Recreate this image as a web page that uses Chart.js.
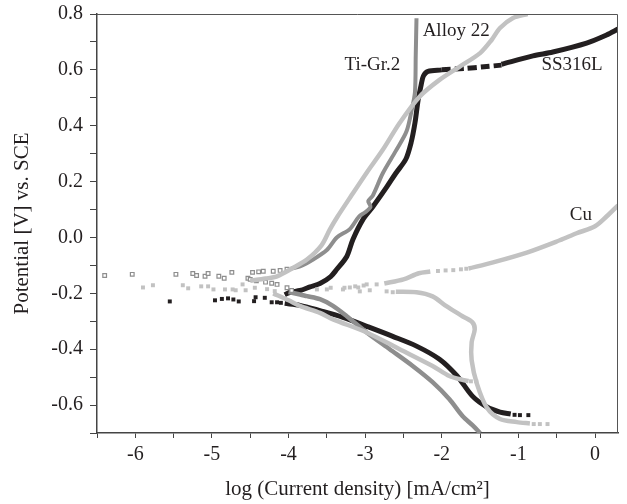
<!DOCTYPE html>
<html>
<head>
<meta charset="utf-8">
<script src="https://cdn.jsdelivr.net/npm/chart.js@4"></script>
<style>
  body { margin: 0; background: #fff; }
  canvas { display: block; }
</style>
</head>
<body>
<canvas id="chart" width="627" height="504"></canvas>
<script>
// DATA (log i in mA/cm2, potential in V vs. SCE)

// SS316L
const ssMarkX = [-5.55, -4.96, -4.87, -4.79, -4.72, -4.65, -4.45, -4.43, -4.31, -4.22, -4.15, -4.1];
const ssMarkY = [-0.229, -0.225, -0.22, -0.218, -0.222, -0.229, -0.228, -0.214, -0.216, -0.232, -0.232, -0.234];
const ssAnodX = [-4.05, -3.98, -3.85, -3.72, -3.59, -3.45, -3.37, -3.24, -3.16, -3.03, -2.9, -2.72, -2.6, -2.47, -2.4, -2.35, -2.31, -2.27, -2.24, -2.18, -2.0];
const ssAnodY = [-0.205, -0.196, -0.19, -0.177, -0.165, -0.14, -0.114, -0.068, -0.007, 0.064, 0.11, 0.18, 0.23, 0.28, 0.34, 0.41, 0.49, 0.545, 0.578, 0.595, 0.6];
const ssPlatX = [-2.0, -1.7, -1.45, -1.22];
const ssPlatY = [0.6, 0.605, 0.611, 0.617];
const ssTransX = [-1.22, -0.81, -0.55, -0.11, 0.15, 0.3];
const ssTransY = [0.62, 0.65, 0.664, 0.696, 0.725, 0.746];
const ssCathX = [-4.05, -3.85, -3.59, -3.29, -2.98, -2.64, -2.33, -2.03, -1.8, -1.6, -1.41, -1.24, -1.1];
const ssCathY = [-0.236, -0.243, -0.262, -0.286, -0.318, -0.354, -0.389, -0.436, -0.496, -0.568, -0.607, -0.625, -0.632];
const ssEndX = [-1.05, -0.98, -0.87];
const ssEndY = [-0.635, -0.636, -0.636];

// Ti-Gr.2
const tiMarkX = [-6.4, -6.04, -5.47, -5.25, -5.2, -5.09, -5.05, -4.91, -4.84, -4.74, -4.53, -4.47, -4.39, -4.33, -4.2, -4.11, -4.02, -4.5, -4.42, -4.3, -4.22, -4.15, -4.02, -3.96];
const tiMarkY = [-0.136, -0.132, -0.132, -0.129, -0.136, -0.139, -0.129, -0.139, -0.146, -0.125, -0.146, -0.125, -0.123, -0.121, -0.121, -0.118, -0.114, -0.15, -0.155, -0.16, -0.164, -0.168, -0.18, -0.19];
const tiAnodX = [-3.97, -3.85, -3.68, -3.5, -3.37, -3.2, -3.08, -3.0, -2.93, -2.96, -2.9, -2.77, -2.6, -2.46, -2.39, -2.35, -2.34, -2.33];
const tiAnodY = [-0.112, -0.104, -0.079, -0.045, 0.0, 0.03, 0.075, 0.09, 0.11, 0.13, 0.15, 0.23, 0.31, 0.38, 0.46, 0.52, 0.65, 0.785];
const tiCathX = [-4.0, -3.85, -3.76, -3.59, -3.42, -3.24, -2.98, -2.68, -2.38, -2.12, -1.9, -1.73, -1.6, -1.5];
const tiCathY = [-0.195, -0.204, -0.21, -0.221, -0.245, -0.282, -0.34, -0.4, -0.46, -0.518, -0.579, -0.639, -0.672, -0.7];

// Alloy 22
const alMarkX = [-5.9, -5.77, -5.38, -5.31, -5.14, -5.05, -4.98, -4.83, -4.73, -4.69, -4.6, -4.56, -4.44, -4.28, -4.18];
const alMarkY = [-0.179, -0.171, -0.171, -0.182, -0.175, -0.175, -0.186, -0.186, -0.186, -0.189, -0.168, -0.189, -0.18, -0.185, -0.192];
const alAnodX = [-4.5, -4.3, -4.15, -3.95, -3.76, -3.57, -3.46, -3.36, -3.18, -2.98, -2.77, -2.55, -2.29, -2.03, -1.77, -1.5, -1.35, -1.24, -1.07, -0.88];
const alAnodY = [-0.155, -0.147, -0.139, -0.11, -0.079, -0.028, 0.029, 0.075, 0.15, 0.232, 0.314, 0.41, 0.504, 0.564, 0.611, 0.66, 0.707, 0.75, 0.786, 0.8];
const alCathX = [-4.2, -4.0, -3.85, -3.59, -3.42, -2.98, -2.55, -2.12, -1.9, -1.73, -1.65];
const alCathY = [-0.2, -0.225, -0.245, -0.27, -0.293, -0.34, -0.4, -0.46, -0.496, -0.51, -0.514];
const alEndX = [-1.62, -1.55];
const alEndY = [-0.515, -0.515];

// Cu
const cuMarkX = [-3.63, -3.5, -3.29, -3.2, -3.09, -3.07, -2.98, -2.94, -2.85, -2.72, -2.64, -3.45, -3.27, -3.13, -3.02];
const cuMarkY = [-0.186, -0.186, -0.186, -0.179, -0.179, -0.193, -0.168, -0.189, -0.168, -0.193, -0.196, -0.18, -0.18, -0.175, -0.172];
const cuAnodX = [-2.75, -2.5, -2.3, -2.15];
const cuAnodY = [-0.165, -0.15, -0.128, -0.122];
const cuGapX = [-2.05, -1.95, -1.85, -1.75, -1.68];
const cuGapY = [-0.12, -0.118, -0.117, -0.114, -0.112];
const cuRiseX = [-1.65, -1.33, -0.89, -0.46, -0.24, 0.0, 0.15, 0.3];
const cuRiseY = [-0.111, -0.089, -0.054, -0.01, 0.015, 0.04, 0.075, 0.115];
const cuCathX = [-2.6, -2.33, -2.12, -1.94, -1.73, -1.6, -1.57, -1.61, -1.61, -1.54, -1.41, -1.24, -1.02, -0.85];
const cuCathY = [-0.194, -0.196, -0.211, -0.246, -0.282, -0.304, -0.329, -0.375, -0.44, -0.525, -0.61, -0.65, -0.661, -0.666];
const cuEndX = [-0.8, -0.72, -0.62];
const cuEndY = [-0.668, -0.668, -0.668];

// AXES
const xTicks = [-6.5, -6, -5.5, -5, -4.5, -4, -3.5, -3, -2.5, -2, -1.5, -1, -0.5, 0];
const yTicks = [-0.7, -0.6, -0.5, -0.4, -0.3, -0.2, -0.1, 0, 0.1, 0.2, 0.3, 0.4, 0.5, 0.6, 0.7, 0.8];

// CURVE LABELS
const labelText = ["Ti-Gr.2", "Alloy 22", "SS316L", "Cu"];
const labelX = [-3.27, -2.25, -0.7, -0.33];
const labelY = [0.6, 0.722, 0.6, 0.064];

const BLACK = "#231f20";
const MID = "#8e8e8e";
const LIGHT = "#c2c2c2";
const SERIF = "'Liberation Serif'";

function pts(xs, ys) {
  return xs.map((x, i) => ({ x: x, y: ys[i] }));
}

function line(xs, ys, color, width, dash) {
  return {
    data: pts(xs, ys),
    showLine: true,
    borderColor: color,
    borderWidth: width,
    borderDash: dash || [],
    pointRadius: 0,
    tension: 0.3,
    borderCapStyle: "butt"
  };
}

function marks(xs, ys, color, hollow) {
  return {
    data: pts(xs, ys),
    showLine: false,
    pointStyle: "rect",
    pointRadius: hollow ? 2.6 : 2.8,
    borderWidth: hollow ? 1.2 : 0,
    borderColor: color,
    backgroundColor: hollow ? "#fff" : color
  };
}

// frame on top/right + curve labels
const extras = {
  id: "extras",
  afterDatasetsDraw(chart) {
    const ctx = chart.ctx;
    const a = chart.chartArea;
    const xs = chart.scales.x;
    const ys = chart.scales.y;
    ctx.save();
    ctx.strokeStyle = "#555";
    ctx.lineWidth = 1;
    ctx.beginPath();
    ctx.moveTo(a.left, a.top + 0.5);
    ctx.lineTo(a.right - 0.5, a.top + 0.5);
    ctx.lineTo(a.right - 0.5, a.bottom);
    ctx.stroke();
    ctx.fillStyle = BLACK;
    ctx.font = "19px " + SERIF;
    ctx.textAlign = "left";
    ctx.textBaseline = "alphabetic";
    labelText.forEach((t, i) => {
      ctx.fillText(t, xs.getPixelForValue(labelX[i]), ys.getPixelForValue(labelY[i]));
    });
    ctx.restore();
  }
};

new Chart(document.getElementById("chart"), {
  type: "scatter",
  data: {
    datasets: [
      // Cu
      marks(cuMarkX, cuMarkY, LIGHT, false),
      line(cuAnodX, cuAnodY, LIGHT, 4.5),
      marks(cuGapX, cuGapY, LIGHT, false),
      line(cuRiseX, cuRiseY, LIGHT, 4.5),
      line(cuCathX, cuCathY, LIGHT, 4.5),
      marks(cuEndX, cuEndY, LIGHT, false),
      // Alloy 22
      marks(alMarkX, alMarkY, LIGHT, false),
      line(alAnodX, alAnodY, LIGHT, 4.5),
      line(alCathX, alCathY, LIGHT, 4.5),
      marks(alEndX, alEndY, LIGHT, false),
      // Ti-Gr.2
      marks(tiMarkX, tiMarkY, MID, true),
      line(tiAnodX, tiAnodY, MID, 4),
      line(tiCathX, tiCathY, MID, 4.5),
      // SS316L
      marks(ssMarkX, ssMarkY, BLACK, false),
      line(ssAnodX, ssAnodY, BLACK, 5),
      line(ssPlatX, ssPlatY, BLACK, 5, [9, 4]),
      line(ssTransX, ssTransY, BLACK, 5),
      line(ssCathX, ssCathY, BLACK, 5),
      marks(ssEndX, ssEndY, BLACK, false)
    ]
  },
  options: {
    responsive: false,
    devicePixelRatio: 1,
    animation: false,
    layout: { padding: { top: 14, right: 9, left: 0, bottom: 0 } },
    plugins: {
      legend: { display: false },
      tooltip: { enabled: false }
    },
    scales: {
      x: {
        type: "linear",
        min: -6.5,
        max: 0.3,
        afterBuildTicks: s => { s.ticks = xTicks.map(v => ({ value: v })); },
        afterFit: s => { s.height = 71; s.paddingLeft = 0; s.paddingRight = 0; },
        grid: { drawOnChartArea: false, drawTicks: true, tickLength: 5, color: "#444", lineWidth: 1 },
        border: { display: true, color: "#444", width: 1.5 },
        ticks: {
          color: BLACK,
          font: { family: SERIF, size: 20 },
          padding: 5,
          maxRotation: 0,
          autoSkip: false,
          callback: v => (Number.isInteger(v) ? String(v) : "")
        },
        title: {
          display: true,
          text: "log (Current density) [mA/cm²]",
          color: BLACK,
          font: { family: SERIF, size: 21 },
          padding: { top: 0, bottom: 2 }
        }
      },
      y: {
        type: "linear",
        min: -0.7,
        max: 0.8,
        afterBuildTicks: s => { s.ticks = yTicks.map(v => ({ value: v })); },
        afterFit: s => { s.width = 97; s.paddingTop = 0; s.paddingBottom = 0; },
        grid: { drawOnChartArea: false, drawTicks: true, tickLength: 7, color: "#444", lineWidth: 1 },
        border: { display: true, color: "#444", width: 1.5 },
        ticks: {
          color: BLACK,
          font: { family: SERIF, size: 20 },
          padding: 7,
          autoSkip: false,
          callback: v => (Math.round(v * 10) % 2 === 0 ? v.toFixed(1) : "")
        },
        title: {
          display: true,
          text: "Potential [V] vs. SCE",
          color: BLACK,
          font: { family: SERIF, size: 21 },
          padding: { top: 10, bottom: 0 }
        }
      }
    }
  },
  plugins: [extras]
});
</script>
</body>
</html>
